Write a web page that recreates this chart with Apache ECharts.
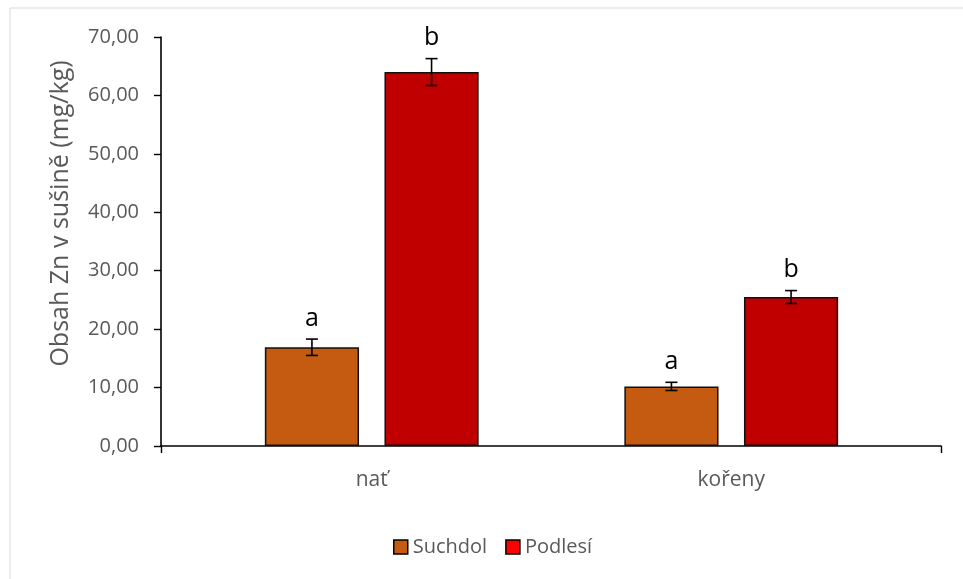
<!DOCTYPE html>
<html>
<head>
<meta charset="utf-8">
<script src="https://cdn.jsdelivr.net/npm/echarts@6/dist/echarts.min.js"></script>
<style>
  html, body { margin: 0; padding: 0; background: #fff; }
  #chart { width: 963px; height: 579px; }
</style>
</head>
<body>
<div id="chart"></div>
<script>
// Zn content in dry matter, two sites, two plant parts
const categories = ['nať', 'kořeny'];
const seriesNames = ['Suchdol', 'Podlesí'];
const suchdol = [16.9, 10.2];
const podlesi = [64.0, 25.5];
const suchdolErr = [1.4, 0.7];
const podlesiErr = [2.3, 1.1];
const suchdolSig = ['a', 'a'];
const podlesiSig = ['b', 'b'];
const yTicks = { min: 0, max: 70, interval: 10 };

const FONT = 'Open Sans';
const GRAY = '#595959';
const BAR_W = 0.262;   // share of the category band
const BAR_GAP = 0.27;  // share of one bar width

const values = [suchdol, podlesi];
const errors = [suchdolErr, podlesiErr];
const letters = [suchdolSig, podlesiSig];

function errorSeries(si) {
  return {
    type: 'custom',
    xAxisIndex: 1,
    yAxisIndex: 1,
    silent: true,
    z: 5,
    data: categories.map((c, i) => [i, values[si][i], errors[si][i]]),
    renderItem: function (params, api) {
      const idx = api.value(0);
      const v = api.value(1);
      const e = api.value(2);
      const band = api.size([1, 0])[0];
      const bw = band * BAR_W;
      const gap = bw * BAR_GAP;
      const group = 2 * bw + gap;
      const base = api.coord([idx, v]);
      const cx = base[0] - group / 2 + bw / 2 + si * (bw + gap);
      const top = api.coord([idx, v + e])[1];
      const bot = api.coord([idx, v - e])[1];
      const cap = 6;
      const st = { stroke: '#000', lineWidth: 1.6 };
      return {
        type: 'group',
        children: [
          { type: 'line', shape: { x1: cx, y1: top, x2: cx, y2: bot }, style: st },
          { type: 'line', shape: { x1: cx - cap, y1: top, x2: cx + cap, y2: top }, style: st },
          { type: 'line', shape: { x1: cx - cap, y1: bot, x2: cx + cap, y2: bot }, style: st },
          {
            type: 'text',
            style: {
              text: letters[si][params.dataIndex],
              x: cx, y: top - 8,
              align: 'center', verticalAlign: 'bottom',
              font: '25px "' + FONT + '"', fill: '#000'
            }
          }
        ]
      };
    }
  };
}

const chart = echarts.init(document.getElementById('chart'), null, { renderer: 'canvas' });

chart.setOption({
  backgroundColor: '#fff',
  animation: false,
  textStyle: { fontFamily: FONT },
  graphic: [{
    type: 'rect',
    shape: { x: 10, y: 8, width: 1000, height: 700 },
    style: { fill: 'none', stroke: '#D9D9D9', lineWidth: 1 },
    silent: true, z: -10
  }],
  legend: {
    top: 532,
    left: 388,
    itemWidth: 14,
    itemHeight: 14,
    itemGap: 18,
    icon: 'rect',
    textStyle: { color: GRAY, fontSize: 20, fontFamily: FONT },
    data: [
      { name: seriesNames[0], itemStyle: { color: '#C55A11', borderColor: '#000', borderWidth: 1.5 } },
      { name: seriesNames[1], itemStyle: { color: '#FF0000', borderColor: '#000', borderWidth: 1.5 } }
    ]
  },
  grid: [
    { left: 161, right: 22, top: 37, bottom: 133 },
    { left: 192, right: 52, top: 37, bottom: 133 }
  ],
  xAxis: [
    {
      gridIndex: 0, type: 'value', min: 0, max: 1, interval: 1,
      axisLine: { show: true, lineStyle: { color: '#000', width: 1.6 } },
      axisTick: { show: true, length: 7, lineStyle: { color: '#000', width: 1.4 } },
      axisLabel: { show: false },
      splitLine: { show: false }
    },
    {
      gridIndex: 1, type: 'category', data: categories,
      axisLine: { show: false },
      axisTick: { show: false },
      axisLabel: { color: GRAY, fontSize: 21, margin: 24, fontFamily: FONT },
      splitLine: { show: false }
    }
  ],
  yAxis: [
    {
      gridIndex: 0, type: 'value',
      min: yTicks.min, max: yTicks.max, interval: yTicks.interval,
      name: 'Obsah Zn v sušině (mg/kg)',
      nameLocation: 'middle',
      nameGap: 88,
      nameTextStyle: { color: GRAY, fontSize: 25, fontFamily: FONT, padding: [0, 0, 0, 56] },
      axisLine: { show: true, lineStyle: { color: '#000', width: 1.6 } },
      axisTick: { show: true, length: 7, lineStyle: { color: '#000', width: 1.4 } },
      axisLabel: {
        color: GRAY, fontSize: 20, margin: 22, fontFamily: FONT,
        formatter: v => v.toFixed(2).replace('.', ',')
      },
      splitLine: { show: false }
    },
    {
      gridIndex: 1, type: 'value',
      min: yTicks.min, max: yTicks.max, interval: yTicks.interval,
      show: false, splitLine: { show: false }
    }
  ],
  series: [
    {
      name: seriesNames[0], type: 'bar', xAxisIndex: 1, yAxisIndex: 1,
      data: suchdol,
      barWidth: (BAR_W * 100) + '%', barGap: (BAR_GAP * 100) + '%',
      itemStyle: { color: '#C55A11', borderColor: '#111', borderWidth: 1.5 }
    },
    {
      name: seriesNames[1], type: 'bar', xAxisIndex: 1, yAxisIndex: 1,
      data: podlesi,
      barWidth: (BAR_W * 100) + '%', barGap: (BAR_GAP * 100) + '%',
      itemStyle: { color: '#C00000', borderColor: '#111', borderWidth: 1.5 }
    },
    errorSeries(0),
    errorSeries(1)
  ]
});
</script>
</body>
</html>
